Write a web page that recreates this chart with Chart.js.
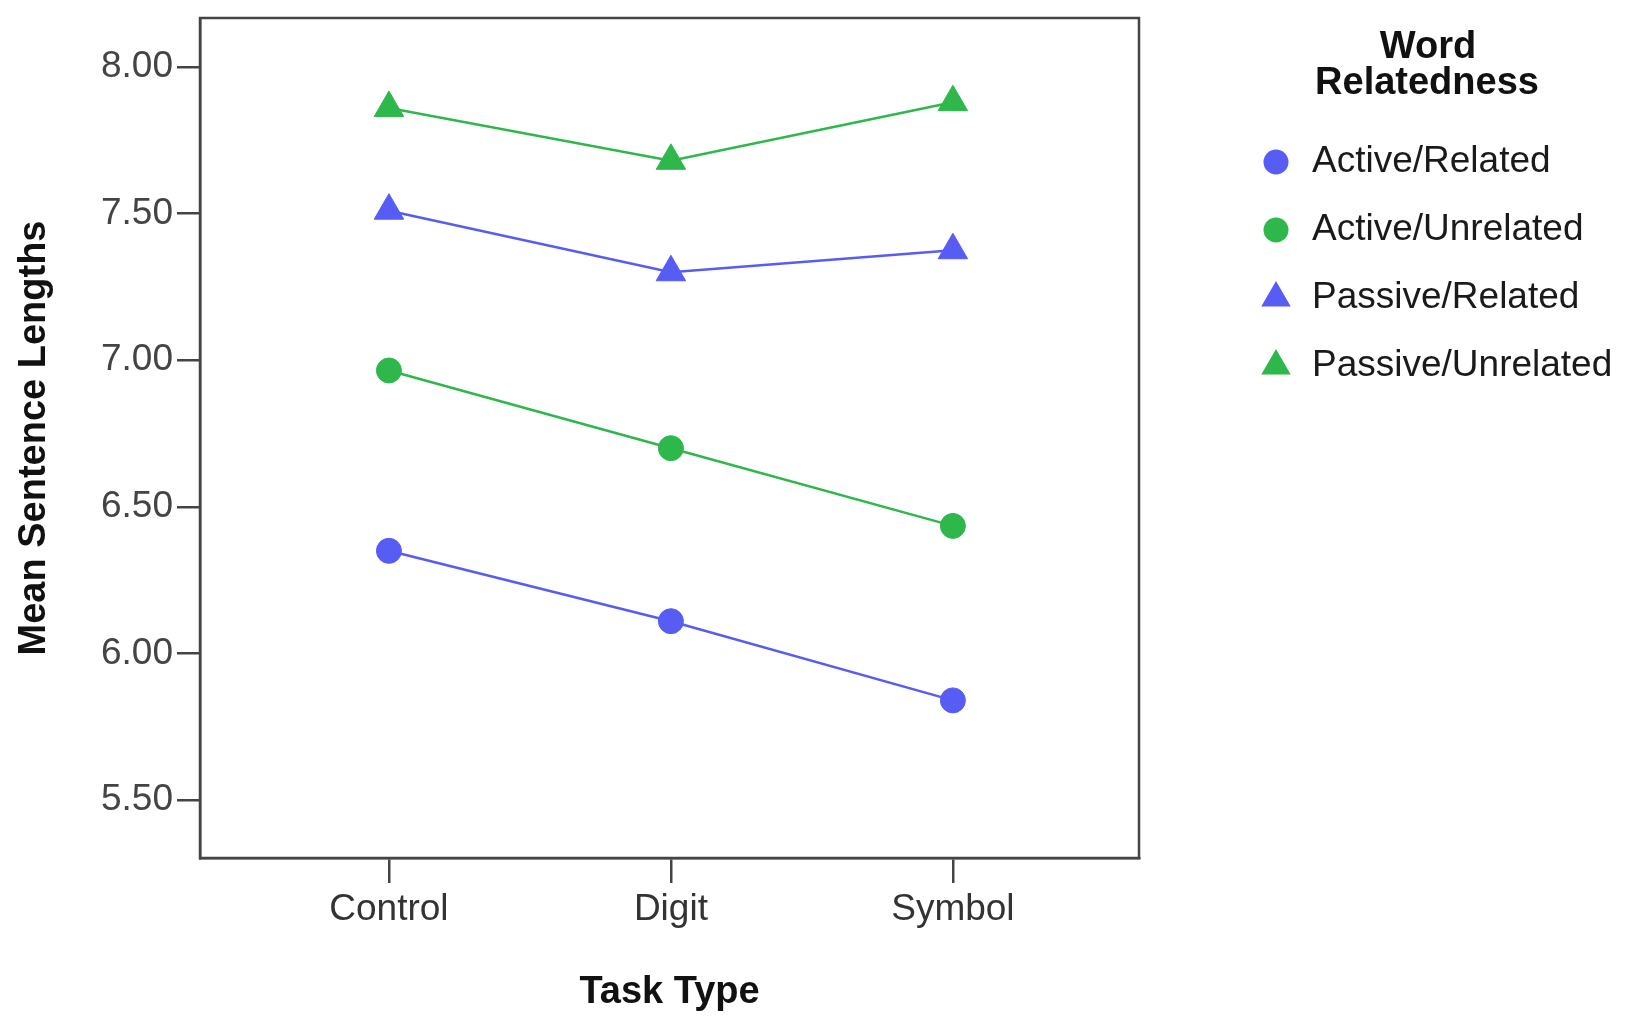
<!DOCTYPE html>
<html>
<head>
<meta charset="utf-8">
<script src="https://cdn.jsdelivr.net/npm/chart.js@4.4.1/dist/chart.umd.min.js"></script>
<style>
html, body { margin: 0; padding: 0; background: #fff; }
#wrap { width: 1625px; height: 1016px; position: relative; }
</style>
</head>
<body>
<div id="wrap"><canvas id="chart"></canvas></div>
<script>
// categories and tick labels
const taskTypes = ['Control', 'Digit', 'Symbol'];
const yTickValues = [5.5, 6.0, 6.5, 7.0, 7.5, 8.0];

// mean sentence lengths per task type
const activeRelated = [6.35, 6.11, 5.84];
const activeUnrelated = [6.965, 6.70, 6.435];
const passiveRelated = [7.51, 7.30, 7.375];
const passiveUnrelated = [7.86, 7.68, 7.88];

const seriesNames = ['Active/Related', 'Active/Unrelated', 'Passive/Related', 'Passive/Unrelated'];
const legendTitle = ['Word', 'Relatedness'];
const xTitle = 'Task Type';
const yTitle = 'Mean Sentence Lengths';

const BLUE = 'rgb(86, 92, 244)';
const GREEN = 'rgb(46, 184, 76)';
const AXIS = '#444';
const FONT = '"Liberation Sans", Arial, sans-serif';

function toPoints(values) {
    return values.map((v, i) => ({ x: i, y: v }));
}

function makeSeries(label, values, color, style, radius) {
    return {
        label: label,
        data: toPoints(values),
        borderColor: color,
        backgroundColor: color,
        borderWidth: 2.5,
        pointStyle: style,
        pointRadius: radius,
        pointBackgroundColor: color,
        pointBorderColor: color,
        pointBorderWidth: 1,
        tension: 0,
        clip: false
    };
}

// frame around the plot area
const framePlugin = {
    id: 'frame',
    beforeDatasetsDraw(chart) {
        const { ctx, chartArea: a } = chart;
        ctx.save();
        ctx.strokeStyle = AXIS;
        ctx.lineWidth = 2.5;
        ctx.strokeRect(a.left, a.top, a.right - a.left, a.bottom - a.top);
        ctx.restore();
    }
};

// SPSS style legend on the right
const legendPlugin = {
    id: 'sideLegend',
    afterDraw(chart) {
        const ctx = chart.ctx;
        ctx.save();
        ctx.fillStyle = '#111';
        ctx.textAlign = 'center';
        ctx.textBaseline = 'middle';
        ctx.font = 'bold 38px ' + FONT;
        ctx.fillText(legendTitle[0], 1428, 48);
        ctx.fillText(legendTitle[1], 1427, 84);

        ctx.font = '37px ' + FONT;
        ctx.textAlign = 'left';
        chart.data.datasets.forEach((ds, i) => {
            const y = 162 + i * 68;
            const x = 1276;
            ctx.fillStyle = ds.pointBackgroundColor;
            ctx.beginPath();
            if (ds.pointStyle === 'triangle') {
                const r = ds.pointRadius;
                ctx.moveTo(x, y - r);
                ctx.lineTo(x + r * 0.866, y + r * 0.5);
                ctx.lineTo(x - r * 0.866, y + r * 0.5);
                ctx.closePath();
            } else {
                ctx.arc(x, y, ds.pointRadius, 0, Math.PI * 2);
            }
            ctx.fill();
            ctx.fillStyle = '#1a1a1a';
            ctx.fillText(ds.label, 1312, y);
        });
        ctx.restore();
    }
};

const ctx = document.getElementById('chart').getContext('2d');
const chart = new Chart(ctx, {
    type: 'line',
    data: {
        datasets: [
            makeSeries(seriesNames[0], activeRelated, BLUE, 'circle', 12.5),
            makeSeries(seriesNames[1], activeUnrelated, GREEN, 'circle', 12.5),
            makeSeries(seriesNames[2], passiveRelated, BLUE, 'triangle', 17),
            makeSeries(seriesNames[3], passiveUnrelated, GREEN, 'triangle', 17)
        ]
    },
    options: {
        responsive: true,
        maintainAspectRatio: false,
        animation: false,
        layout: {
            padding: { left: 0, top: 17, right: 486, bottom: 0 }
        },
        plugins: {
            legend: { display: false },
            tooltip: { enabled: false }
        },
        scales: {
            x: {
                type: 'linear',
                min: -0.67,
                max: 2.66,
                afterBuildTicks: axis => { axis.ticks = taskTypes.map((t, i) => ({ value: i })); },
                afterFit: axis => {
                    axis.height = 158;
                    axis.paddingLeft = 0;
                    axis.paddingRight = 0;
                },
                ticks: {
                    callback: v => taskTypes[v],
                    autoSkip: false,
                    maxRotation: 0,
                    padding: 5,
                    color: '#333',
                    font: { family: FONT, size: 37 }
                },
                grid: {
                    drawOnChartArea: false,
                    drawTicks: true,
                    tickLength: 25,
                    color: AXIS,
                    lineWidth: 2.5
                },
                border: { display: true, color: AXIS, width: 2.5 },
                title: {
                    display: true,
                    text: xTitle,
                    color: '#111',
                    padding: { top: 0, bottom: 1 },
                    font: { family: FONT, size: 38, weight: 'bold' }
                }
            },
            y: {
                type: 'linear',
                min: 5.3025,
                max: 8.167,
                afterBuildTicks: axis => { axis.ticks = yTickValues.map(v => ({ value: v })); },
                afterFit: axis => {
                    axis.width = 200;
                    axis.paddingTop = 0;
                    axis.paddingBottom = 0;
                },
                ticks: {
                    callback: v => v.toFixed(2),
                    padding: 4,
                    color: AXIS,
                    font: { family: FONT, size: 37 }
                },
                grid: {
                    drawOnChartArea: false,
                    drawTicks: true,
                    tickLength: 23,
                    color: AXIS,
                    lineWidth: 2.5
                },
                border: { display: true, color: AXIS, width: 2.5 },
                title: {
                    display: true,
                    text: yTitle,
                    color: '#111',
                    padding: { top: 12, bottom: 0 },
                    font: { family: FONT, size: 38, weight: 'bold' }
                }
            }
        }
    },
    plugins: [framePlugin, legendPlugin]
});
</script>
</body>
</html>
